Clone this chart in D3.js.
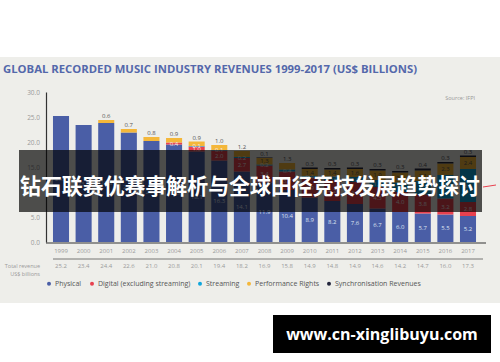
<!DOCTYPE html>
<html>
<head>
<meta charset="utf-8">
<script src="https://cdn.jsdelivr.net/npm/d3@7"></script>
<style>
  body { margin: 0; background: #fff; }
  svg { display: block; font-family: "Open Sans", "DejaVu Sans", sans-serif; }
</style>
</head>
<body>
<script>
var width = 500;
var height = 362;

// data (US$ billions)
var years = ["1999","2000","2001","2002","2003","2004","2005","2006","2007","2008",
             "2009","2010","2011","2012","2013","2014","2015","2016","2017"];
var physical    = [25.2, 23.4, 23.8, 21.9, 20.2, 19.5, 18.1, 16.3, 14.1, 11.9, 10.4, 8.9, 8.2, 7.6, 6.7, 6.0, 5.7, 5.5, 5.2];
var digital     = [0, 0, 0, 0, 0, 0.4, 1.0, 2.0, 2.7, 3.4, 3.7, 3.9, 4.2, 4.4, 4.3, 4.0, 3.8, 3.2, 2.8];
var streaming   = [0, 0, 0, 0, 0, 0, 0.1, 0.1, 0.2, 0.2, 0.4, 0.4, 0.7, 1.0, 1.4, 1.9, 2.7, 4.7, 6.6];
var performance = [0, 0, 0.6, 0.7, 0.8, 0.9, 0.9, 1.0, 1.2, 1.3, 1.3, 1.4, 1.4, 1.6, 1.9, 2.0, 2.1, 2.3, 2.4];
var sync        = [0, 0, 0, 0, 0, 0, 0, 0, 0, 0.1, 0, 0.3, 0.3, 0.3, 0.3, 0.3, 0.4, 0.3, 0.3];
var totals      = ["25.2","23.4","24.4","22.6","21.0","20.8","20.1","19.4","18.2","16.9",
                   "15.8","14.9","14.8","14.9","14.6","14.2","14.7","16.0","17.3"];
var yTicks = [0, 5, 10, 15, 20, 25, 30];

var seriesNames = ["Physical", "Digital (excluding streaming)", "Streaming", "Performance Rights", "Synchronisation Revenues"];
var seriesKeys = ["physical", "digital", "streaming", "performance", "sync"];
var colors = ["#4a5ea6", "#e8414f", "#0fa6dc", "#f4b73a", "#23263c"];

var rows = years.map(function(y, i) {
  return { year: y, physical: physical[i], digital: digital[i], streaming: streaming[i],
           performance: performance[i], sync: sync[i] };
});

var svg = d3.select("body").append("svg")
    .attr("width", width)
    .attr("height", height);

// grey panel
svg.append("rect").attr("x", 0).attr("y", 57).attr("width", width).attr("height", 246).attr("fill", "#eeeeea");

svg.append("text")
    .attr("x", 3).attr("y", 73)
    .attr("font-size", 10.5).attr("font-weight", "bold")
    .attr("fill", "#5468ab")
    .attr("textLength", 414).attr("lengthAdjust", "spacingAndGlyphs")
    .text("GLOBAL RECORDED MUSIC INDUSTRY REVENUES 1999-2017 (US$ BILLIONS)");

svg.append("text")
    .attr("x", 475).attr("y", 100).attr("text-anchor", "end")
    .attr("font-size", 5.5).attr("fill", "#999")
    .text("Source: IFPI");

var x = d3.scaleBand().domain(years).range([49.7, 479.3]).paddingInner(0.29).paddingOuter(0.145);
var y = d3.scaleLinear().domain([0, 30]).range([242, 92]);

// y axis
var yAxis = svg.append("g").attr("transform", "translate(46,0)")
    .call(d3.axisLeft(y).tickValues(yTicks).tickSize(0).tickPadding(6).tickFormat(d3.format(".1f")));
yAxis.select(".domain").attr("stroke", "#333").attr("stroke-width", 1.2);
yAxis.selectAll("text").attr("font-size", 6.5).attr("fill", "#9a9a9a").attr("font-family", "Open Sans, sans-serif");

// bars
var stack = d3.stack().keys(seriesKeys)(rows);
var layers = svg.append("g").selectAll("g")
    .data(stack).enter().append("g")
    .attr("fill", function(d, i) { return colors[i]; });

layers.selectAll("rect")
    .data(function(d) { return d; })
    .enter().append("rect")
    .attr("x", function(d) { return x(d.data.year); })
    .attr("width", x.bandwidth())
    .attr("y", function(d) { return y(d[1]); })
    .attr("height", function(d) { return y(d[0]) - y(d[1]); });

// segment labels
var labels = svg.append("g").attr("font-size", 6).attr("text-anchor", "middle");
stack.forEach(function(layer, li) {
  layer.forEach(function(d, i) {
    var v = d[1] - d[0];
    if (v <= 0) return;
    var isTop = seriesKeys.slice(li + 1).every(function(k) { return rows[i][k] === 0; });
    var cx = x(d.data.year) + x.bandwidth() / 2;
    if (li === 0) {
      labels.append("text").attr("x", cx).attr("y", y((d[0] + d[1]) / 2) + 2)
        .attr("fill", "#dfe4f2").text(v.toFixed(1));
    } else if (isTop) {
      labels.append("text").attr("x", cx).attr("y", y(d[1]) - 2)
        .attr("fill", "#555").text(v.toFixed(1));
    } else {
      labels.append("text").attr("x", cx).attr("y", y((d[0] + d[1]) / 2) + 2)
        .attr("fill", li === 3 ? "#555" : "#f3e9ea").text(v.toFixed(1));
    }
  });
});

// x axis
var xAxis = svg.append("g").attr("transform", "translate(0,243)")
    .call(d3.axisBottom(x).tickSize(0).tickPadding(6));
xAxis.select(".domain").attr("d", "M46,0H486").attr("stroke", "#333").attr("stroke-width", 1.2);
xAxis.selectAll("text").attr("font-size", 6).attr("fill", "#9a9a9a").attr("font-family", "Open Sans, sans-serif");

// totals row
svg.append("line").attr("x1", 53).attr("x2", 483).attr("y1", 259).attr("y2", 259)
    .attr("stroke", "#555").attr("stroke-width", 0.8);
svg.append("g").selectAll("text").data(totals).enter().append("text")
    .attr("x", function(d, i) { return x(years[i]) + x.bandwidth() / 2; })
    .attr("y", 268).attr("text-anchor", "middle")
    .attr("font-size", 6).attr("fill", "#9a9a9a")
    .text(function(d) { return d; });
svg.append("text").attr("x", 40).attr("y", 268).attr("text-anchor", "end")
    .attr("font-size", 5.5).attr("fill", "#9a9a9a").text("Total revenue");
svg.append("text").attr("x", 40).attr("y", 276).attr("text-anchor", "end")
    .attr("font-size", 5.5).attr("fill", "#9a9a9a").text("US$ billions");

// legend
var legendX = [49, 92, 200, 249, 329];
var legend = svg.append("g").selectAll("g").data(seriesNames).enter().append("g")
    .attr("transform", function(d, i) { return "translate(" + legendX[i] + ",286)"; });
legend.append("circle").attr("r", 2).attr("cy", -2.3)
    .attr("fill", function(d, i) { return colors[i]; });
legend.append("text").attr("x", 6).attr("font-size", 7).attr("fill", "#555")
    .text(function(d) { return d; });

// banner over the chart
svg.append("rect").attr("x", 19).attr("y", 150).attr("width", 463).attr("height", 62)
    .attr("fill", "#000").attr("opacity", 0.68);
svg.append("line").attr("x1", 483).attr("x2", 496).attr("y1", 187).attr("y2", 185)
    .attr("stroke", "#e8414f").attr("stroke-width", 1);
svg.append("text").attr("x", 250).attr("y", 194).attr("text-anchor", "middle")
    .attr("font-family", "Noto Sans CJK SC, sans-serif").attr("font-weight", "bold")
    .attr("font-size", 21.5).attr("fill", "#fff")
    .attr("textLength", 460).attr("lengthAdjust", "spacingAndGlyphs")
    .text("钻石联赛优赛事解析与全球田径竞技发展趋势探讨");

// watermark box
svg.append("rect").attr("x", 273).attr("y", 315).attr("width", 218).attr("height", 38).attr("fill", "#000");
svg.append("text").attr("x", 382).attr("y", 340).attr("text-anchor", "middle")
    .attr("font-family", "Open Sans, sans-serif").attr("font-weight", "bold")
    .attr("font-size", 16).attr("fill", "#fff")
    .text("www.cn-xinglibuyu.com");
</script>
</body>
</html>
